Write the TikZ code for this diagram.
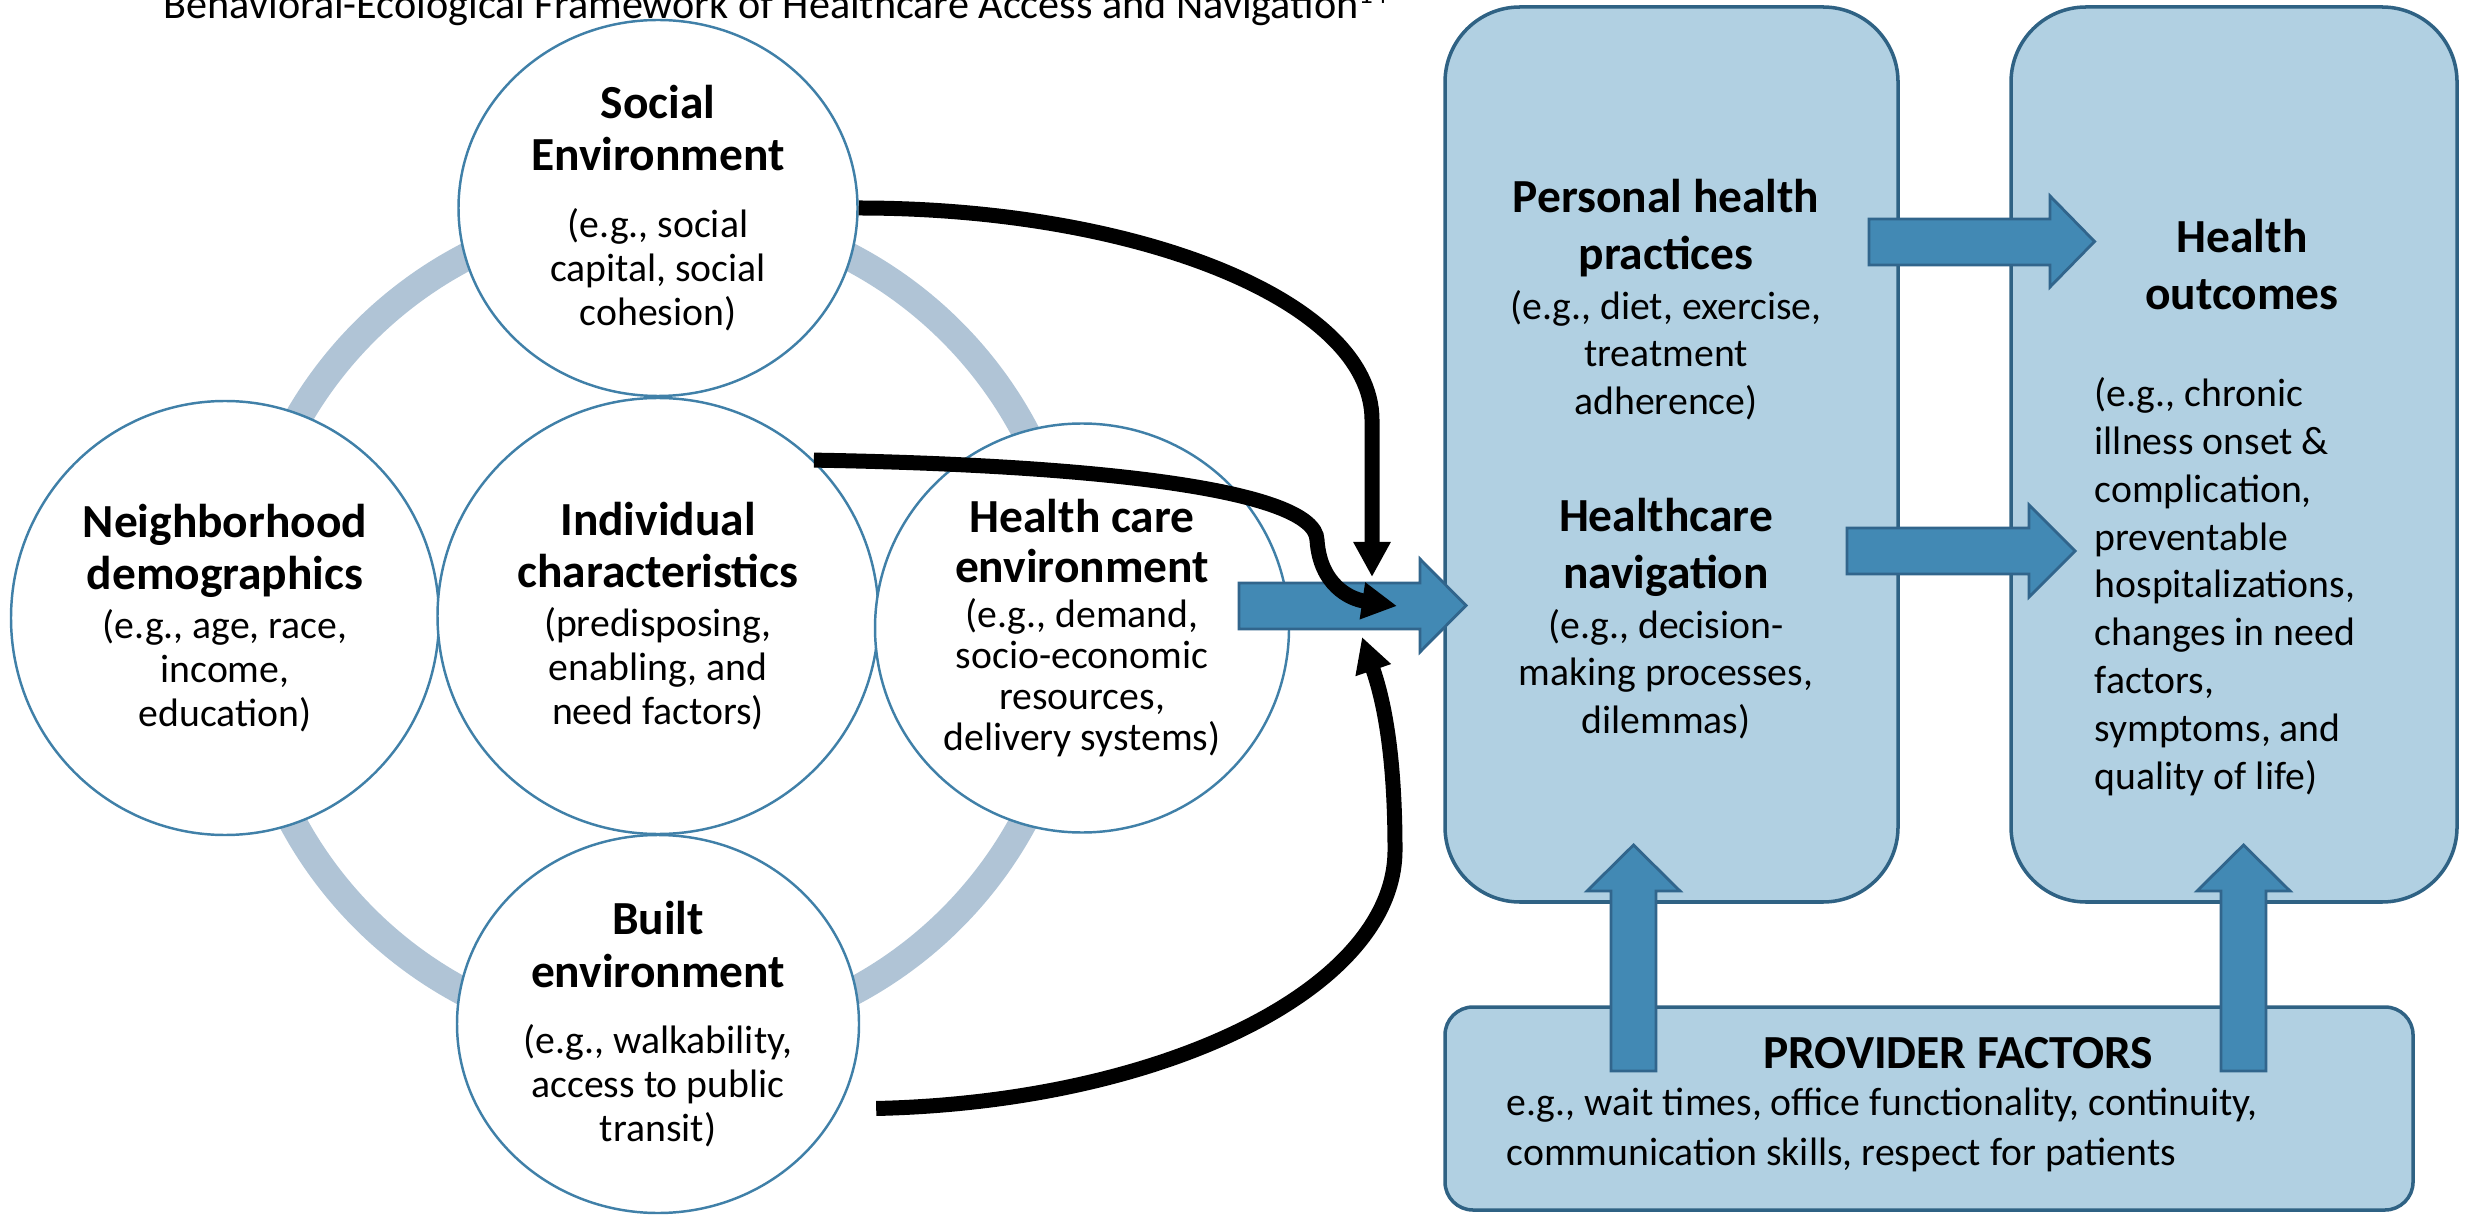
\documentclass[tikz,border=0pt]{standalone}
\usepackage{fontspec}
\setmainfont{Carlito}
\usetikzlibrary{arrows.meta,shapes.geometric}
\definecolor{ringgray}{RGB}{176,196,214}
\definecolor{circblue}{RGB}{64,128,168}
\definecolor{panelfill}{RGB}{177,208,226}
\definecolor{panelline}{RGB}{47,98,132}
\definecolor{arrowfill}{RGB}{66,137,180}
\definecolor{arrowline}{RGB}{49,101,140}
\newcommand{\hdfont}{\fontsize{13.5}{15}\selectfont\bfseries}
\newcommand{\egfont}{\fontsize{11.3}{12.5}\selectfont}
\newcommand{\boxfont}{\fontsize{11.3}{13.6}\selectfont}

\begin{document}
\begin{tikzpicture}[
    ringline/.style={line width=0.28cm,draw=ringgray},
    sphere/.style={ellipse,draw=circblue,line width=0.7pt,fill=white,inner sep=0pt,align=center,font=\egfont},
    panel/.style={rectangle,draw=panelline,fill=panelfill,line width=1pt,inner sep=0pt},
    blockarrow/.style={draw=arrowline,fill=arrowfill,line width=0.8pt,line join=miter},
    pathway/.style={line width=0.15cm,-{Triangle[length=0.35cm,width=0.35cm]}}]
  \useasboundingbox (0,0) rectangle (24.75,-12.16);

  % title, partly cut off at the top edge
  \node[anchor=base west,inner sep=0pt,font=\fontsize{12}{14}\selectfont] (title) at (1.63,-0.19)
    {Behavioral-Ecological Framework of Healthcare Access and Navigation\textsuperscript{14}};

  % ring behind the five spheres
  \draw[ringline] (6.58,-6.25) circle (4.15);

  \node[sphere,minimum width=3.99cm,minimum height=3.76cm] (social) at (6.58,-2.08)
    {{\hdfont Social}\\[2.5pt]{\hdfont Environment}\\[6.5pt](e.g., social\\capital, social\\cohesion)};
  \node[sphere,minimum width=4.02cm,minimum height=3.78cm] (built) at (6.58,-10.24)
    {{\hdfont Built}\\[2.8pt]{\hdfont environment}\\[6.3pt](e.g., walkability,\\access to public\\transit)};
  \node[sphere,minimum width=4.28cm,minimum height=4.34cm] (neigh) at (2.25,-6.18)
    {{\hdfont Neighborhood}\\[2.5pt]{\hdfont demographics}\\[1.5pt](e.g., age, race,\\income,\\education)};
  \node[sphere,minimum width=4.41cm,minimum height=4.36cm] (indiv) at (6.58,-6.16)
    {{\hdfont Individual}\\[2.5pt]{\hdfont characteristics}\\[1.5pt](predisposing,\\enabling, and\\need factors)};
  \node[sphere,minimum width=4.14cm,minimum height=4.09cm,font=\fontsize{11.3}{11.7}\selectfont] (hcare) at (10.82,-6.28)
    {{\hdfont Health care}\\[2.6pt]{\hdfont environment}\\[0.9pt](e.g., demand,\\socio-economic\\resources,\\delivery systems)};

  % panels on the right
  \node[panel,rounded corners=0.75cm,minimum width=4.53cm,minimum height=8.95cm] (navbox) at (16.715,-4.545) {};
  \node[panel,rounded corners=0.75cm,minimum width=4.46cm,minimum height=8.95cm] (outbox) at (22.34,-4.545) {};
  \node[panel,rounded corners=0.28cm,minimum width=9.68cm,minimum height=2.03cm] (provbox) at (19.29,-11.085) {};

  \node[anchor=north,inner sep=0pt,align=center,font=\boxfont] (practices) at (16.66,-1.79)
    {{\hdfont Personal health}\\[2.4pt]{\hdfont practices}\\[0.6pt](e.g., diet, exercise,\\treatment\\adherence)};
  \node[anchor=north,inner sep=0pt,align=center,font=\boxfont] (navigation) at (16.66,-4.98)
    {{\hdfont Healthcare}\\[2.4pt]{\hdfont navigation}\\[0.6pt](e.g., decision-\\making processes,\\dilemmas)};
  \node[anchor=north,inner sep=0pt,align=center,font=\boxfont] (outhead) at (22.42,-2.19)
    {{\hdfont Health}\\[2.4pt]{\hdfont outcomes}};
  \node[anchor=north west,inner sep=0pt,align=left,font=\boxfont] (outlist) at (20.94,-3.77)
    {(e.g., chronic\\illness onset \&\\complication,\\preventable\\hospitalizations,\\changes in need\\factors,\\symptoms, and\\quality of life)};
  \node[anchor=north,inner sep=0pt,font=\hdfont] (provhead) at (19.58,-10.37) {PROVIDER FACTORS};
  \node[anchor=north west,inner sep=0pt,align=left,font=\fontsize{11.3}{14.2}\selectfont] (provlist) at (15.06,-10.87)
    {e.g., wait times, office functionality, continuity,\\communication skills, respect for patients};

  % block arrows
  \draw[blockarrow] (12.39,-5.83) -- (14.20,-5.83) -- (14.20,-5.59) -- (14.66,-6.055)
    -- (14.20,-6.52) -- (14.20,-6.29) -- (12.39,-6.29) -- cycle;
  \draw[blockarrow] (18.69,-2.19) -- (20.50,-2.19) -- (20.50,-1.96) -- (20.945,-2.415)
    -- (20.50,-2.87) -- (20.50,-2.65) -- (18.69,-2.65) -- cycle;
  \draw[blockarrow] (18.47,-5.28) -- (20.29,-5.28) -- (20.29,-5.05) -- (20.75,-5.51)
    -- (20.29,-5.97) -- (20.29,-5.74) -- (18.47,-5.74) -- cycle;
  \draw[blockarrow] (16.11,-10.71) -- (16.11,-8.91) -- (15.87,-8.91) -- (16.335,-8.45)
    -- (16.80,-8.91) -- (16.56,-8.91) -- (16.56,-10.71) -- cycle;
  \draw[blockarrow] (22.21,-10.71) -- (22.21,-8.91) -- (21.97,-8.91) -- (22.435,-8.45)
    -- (22.90,-8.91) -- (22.66,-8.91) -- (22.66,-10.71) -- cycle;

  % black pathways into the healthcare arrow
  \coordinate (sink1) at (13.72,-5.77);
  \coordinate (sink2) at (13.97,-6.06);
  \coordinate (sink3) at (13.62,-6.37);
  \draw[pathway] (social.east) .. controls (11.37,-2.08) and (13.72,-3.01) .. (13.72,-4.2) -- (sink1);
  \draw[pathway] (indiv.45) .. controls (11.0,-4.65) and (13.15,-4.90) .. (13.17,-5.40)
    .. controls (13.2,-5.85) and (13.5,-5.99) .. (sink2);
  \draw[pathway] ([xshift=0.37cm]built.-25) .. controls (11.62,-11.02) and (13.95,-9.89) .. (13.95,-8.5)
    .. controls (13.95,-7.4) and (13.8,-6.9) .. (sink3);
\end{tikzpicture}
\end{document}
